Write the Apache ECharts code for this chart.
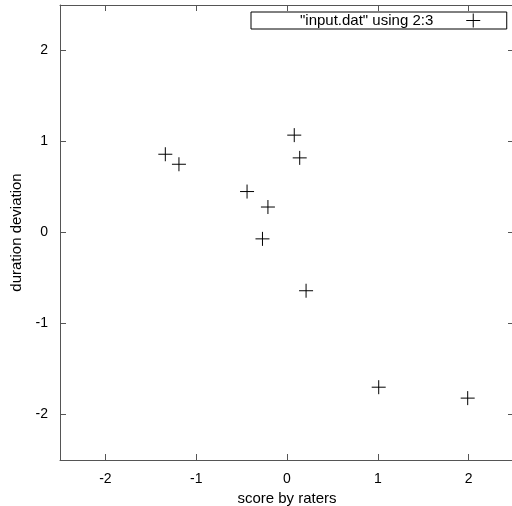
<!DOCTYPE html>
<html>
<head>
<meta charset="utf-8">
<script src="https://cdn.jsdelivr.net/npm/echarts@6/dist/echarts.min.js"></script>
<style>
html,body{margin:0;padding:0;background:#fff;}
#c{width:512px;height:506px;}
</style>
</head>
<body>
<div id="c"></div>
<script>
var seriesName = '"input.dat" using 2:3';
var xValues = [-1.34, -1.19, 0.08, 0.14, -0.44, -0.21, -0.27, 0.21, 1.01, 1.99];
var yValues = [0.86, 0.75, 1.07, 0.82, 0.45, 0.28, -0.07, -0.64, -1.70, -1.82];
var tickLabels = [-2, -1, 0, 1, 2];

var points = xValues.map(function (x, i) { return [x, yValues[i]]; });
var cross = 'path://M0,7L14,7M7,0L7,14';
var font = 'Liberation Sans';
var axisColor = '#555';

function baseAxis(showLabels, name) {
  return {
    type: 'value', min: -2.5, max: 2.5,
    name: name || '',
    nameLocation: 'middle',
    nameTextStyle: { color: '#000', fontFamily: font, fontSize: 15 },
    axisLine: { show: true, onZero: false, lineStyle: { color: axisColor, width: 1 } },
    axisTick: {
      show: true, inside: true, length: 6,
      lineStyle: { color: axisColor },
      customValues: tickLabels
    },
    axisLabel: {
      show: showLabels, color: '#000', fontFamily: font, fontSize: 14, margin: 12,
      customValues: tickLabels
    },
    splitLine: { show: false }
  };
}

var xBottom = baseAxis(true, 'score by raters');
xBottom.position = 'bottom'; xBottom.nameGap = 30;
var xTop = baseAxis(false); xTop.position = 'top';
var yLeft = baseAxis(true, 'duration deviation');
yLeft.position = 'left'; yLeft.nameGap = 36;
var yRight = baseAxis(false); yRight.position = 'right';

var chart = echarts.init(document.getElementById('c'), null, { renderer: 'canvas' });
chart.setOption({
  animation: false,
  backgroundColor: '#fff',
  textStyle: { fontFamily: font },
  grid: { left: 60, top: 5, width: 454, height: 455, containLabel: false, outerBoundsMode: 'none' },
  xAxis: [xBottom, xTop],
  yAxis: [yLeft, yRight],
  legend: {
    left: 251, top: 12,
    orient: 'horizontal',
    align: 'right',
    padding: [1, 26, 1, 49],
    borderColor: '#000', borderWidth: 1,
    itemWidth: 14, itemHeight: 14,
    formatter: function (n) { return '{a|' + n + '}'; },
    textStyle: {
      color: '#000', fontFamily: font, fontSize: 15,
      rich: { a: { color: '#000', fontFamily: font, fontSize: 15, padding: [0, 28, 0, 0] } }
    },
    selectedMode: false,
    data: [{ name: seriesName, icon: cross,
             itemStyle: { color: 'transparent', borderColor: '#000', borderWidth: 1 } }]
  },
  series: [{
    name: seriesName,
    type: 'scatter',
    xAxisIndex: 0, yAxisIndex: 0,
    symbol: cross,
    symbolSize: 14,
    itemStyle: { color: 'transparent', borderColor: '#000', borderWidth: 1, opacity: 1 },
    data: points
  }]
});
</script>
</body>
</html>
